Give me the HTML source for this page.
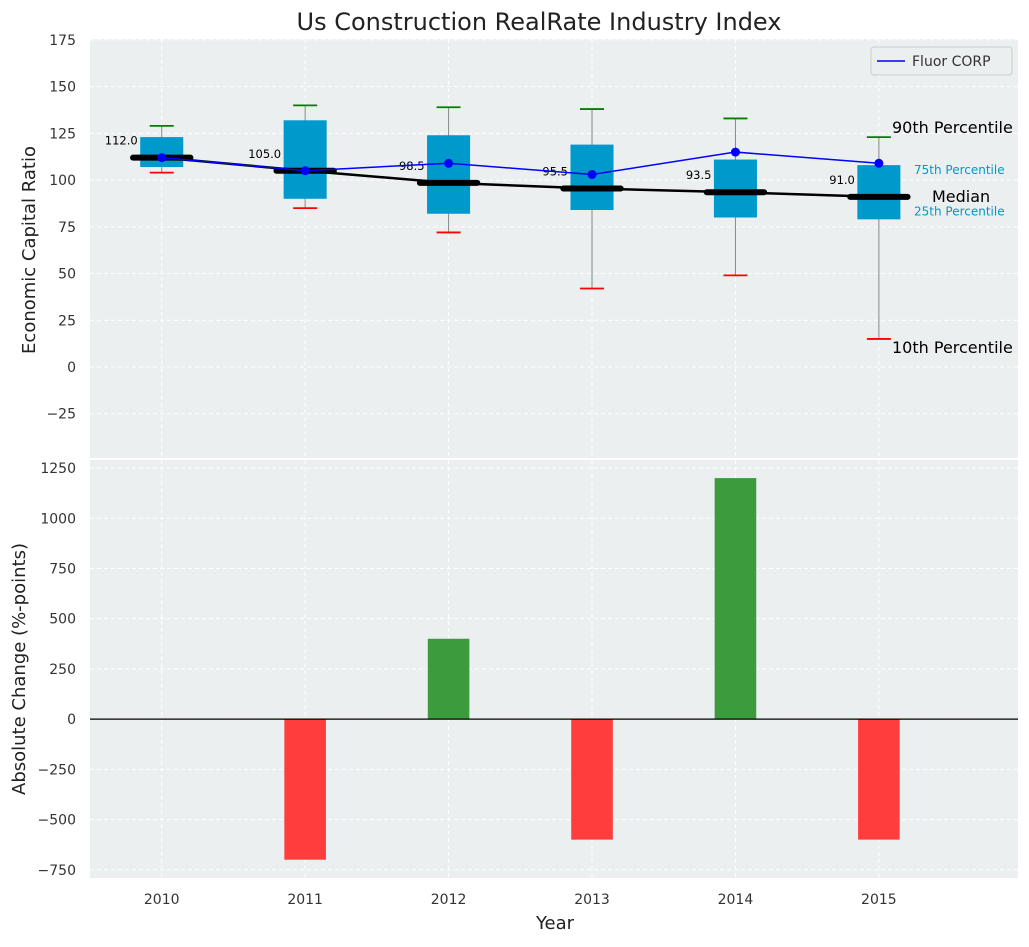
<!DOCTYPE html>
<html><head><meta charset="utf-8"><style>
body{margin:0;background:#fff;font-family:"Liberation Sans","DejaVu Sans",sans-serif}
text{font-family:"DejaVu Sans","Liberation Sans",sans-serif}
</style></head><body>
<svg id="c" width="1029" height="942" xmlns="http://www.w3.org/2000/svg"></svg>
<script>
const years=["2010","2011","2012","2013","2014","2015"];
const q1=[107,90,82,84,80,79];
const q3=[123,132,124,119,111,108];
const p10=[104,85,72,42,49,15];
const p90=[129,140,139,138,133,123];
const medians=[112,105,98.5,95.5,93.5,91];
const fluor=[112,105,109,103,115,109];
const changes=[0,-700,400,-600,1200,-600];
const topTicks=[-25,0,25,50,75,100,125,150,175];
const botTicks=[-750,-500,-250,0,250,500,750,1000,1250];

const svg=document.getElementById('c');
const NS='http://www.w3.org/2000/svg';
function el(t,a,txt){const e=document.createElementNS(NS,t);for(const k in a)e.setAttribute(k,a[k]);if(txt!==undefined)e.textContent=txt;svg.appendChild(e);return e;}
const L=90,R=1018;
const xs=i=>L+(i+0.5)*(R-L)/6.47;
const T0=39,T1=458,tmin=-48.7,tmax=175.5;
const yt=v=>T1-(v-tmin)/(tmax-tmin)*(T1-T0);
const B0=460,B1=878,bmin=-791,bmax=1290;
const yb=v=>B1-(v-bmin)/(bmax-bmin)*(B1-B0);
const ppu=(R-L)/6.47;

let e=el('rect',{x:L,y:T0,width:R-L,height:T1-T0,fill:'#ebefef'});

e=el('rect',{x:L,y:B0,width:R-L,height:B1-B0,fill:'#ebefef'});

years.forEach((y,i)=>{
 el('line',{x1:xs(i),x2:xs(i),y1:T0,y2:T1,stroke:'#fff','stroke-dasharray':'4,3'});
 el('line',{x1:xs(i),x2:xs(i),y1:B0,y2:B1,stroke:'#fff','stroke-dasharray':'4,3'});
 e=el('text',{x:xs(i),y:904,'text-anchor':'middle','font-size':14,fill:'#333'},y);
 
});
topTicks.forEach(v=>{
 el('line',{x1:L,x2:R,y1:yt(v),y2:yt(v),stroke:'#fff','stroke-dasharray':'4,3'});
 e=el('text',{x:76,y:yt(v)+5,'text-anchor':'end','font-size':14,fill:'#333'},String(v).replace('-','−'));
 
});
botTicks.forEach(v=>{
 el('line',{x1:L,x2:R,y1:yb(v),y2:yb(v),stroke:'#fff','stroke-dasharray':'4,3'});
 e=el('text',{x:76,y:yb(v)+5,'text-anchor':'end','font-size':14,fill:'#333'},String(v).replace('-','−'));
 
});
years.forEach((y,i)=>{
 const x=xs(i),w=0.3*ppu;
 e=el('line',{x1:x,x2:x,y1:yt(p90[i]),y2:yt(p10[i]),stroke:'#888','stroke-width':1});
 
 e=el('rect',{x:x-w/2,y:yt(q3[i]),width:w,height:yt(q1[i])-yt(q3[i]),fill:'#0099cc'});
 
 e=el('line',{x1:x-12,x2:x+12,y1:yt(p90[i]),y2:yt(p90[i]),stroke:'green','stroke-width':1.8});
 
 e=el('line',{x1:x-12,x2:x+12,y1:yt(p10[i]),y2:yt(p10[i]),stroke:'red','stroke-width':1.8});
 
});
e=el('polyline',{points:medians.map((m,i)=>xs(i)+','+yt(m)).join(' '),fill:'none',stroke:'#000','stroke-width':2.5});

medians.forEach((m,i)=>{
 e=el('line',{x1:xs(i)-0.2*ppu,x2:xs(i)+0.2*ppu,y1:yt(m),y2:yt(m),stroke:'#000','stroke-width':6,'stroke-linecap':'round'});
 
 e=el('text',{x:xs(i)-24,y:yt(m)-13,'text-anchor':'end','font-size':11.5,fill:'#000'},m.toFixed(1));
 
});
e=el('polyline',{points:fluor.map((m,i)=>xs(i)+','+yt(m)).join(' '),fill:'none',stroke:'blue','stroke-width':1.5});

fluor.forEach((m,i)=>{e=el('circle',{cx:xs(i),cy:yt(m),r:4.5,fill:'blue'});
 });
[['90th Percentile',p90[5],16,'#000',892,-4],['75th Percentile',q3[5],12,'#0099cc',914,9],['Median',medians[5],16,'#000',932,5],['25th Percentile',q1[5],12,'#0099cc',914,-4],['10th Percentile',p10[5],16,'#000',892,14]].forEach(a=>{
 e=el('text',{x:a[4],y:yt(a[1])+a[5],'font-size':a[2],fill:a[3]},a[0]);
 
});
e=el('rect',{x:871,y:47,width:141,height:28,fill:'#ebefef',stroke:'#ccc',rx:3});

el('line',{x1:877,x2:905,y1:61,y2:61,stroke:'blue','stroke-width':1.5});
e=el('text',{x:912,y:66,'font-size':14,fill:'#333'},'Fluor CORP');

changes.forEach((c,i)=>{
 if(c===0)return;const w=0.29*ppu;
 e=el('rect',{x:xs(i)-w/2,y:Math.min(yb(c),yb(0)),width:w,height:Math.abs(yb(c)-yb(0)),fill:c>0?'#3c9c3c':'#ff3d3d'});
 
});
el('line',{x1:L,x2:R,y1:yb(0),y2:yb(0),stroke:'#000','stroke-width':1.2});
e=el('text',{x:539,y:30,'text-anchor':'middle','font-size':24,fill:'#222'},'Us Construction RealRate Industry Index');

e=el('text',{x:555,y:929,'text-anchor':'middle','font-size':18,fill:'#222'},'Year');

e=el('text',{x:0,y:0,'text-anchor':'middle','font-size':18,fill:'#222',transform:'translate(35,250) rotate(-90)'},'Economic Capital Ratio');

e=el('text',{x:0,y:0,'text-anchor':'middle','font-size':18,fill:'#222',transform:'translate(25,669) rotate(-90)'},'Absolute Change (%-points)');

</script>
</body></html>
